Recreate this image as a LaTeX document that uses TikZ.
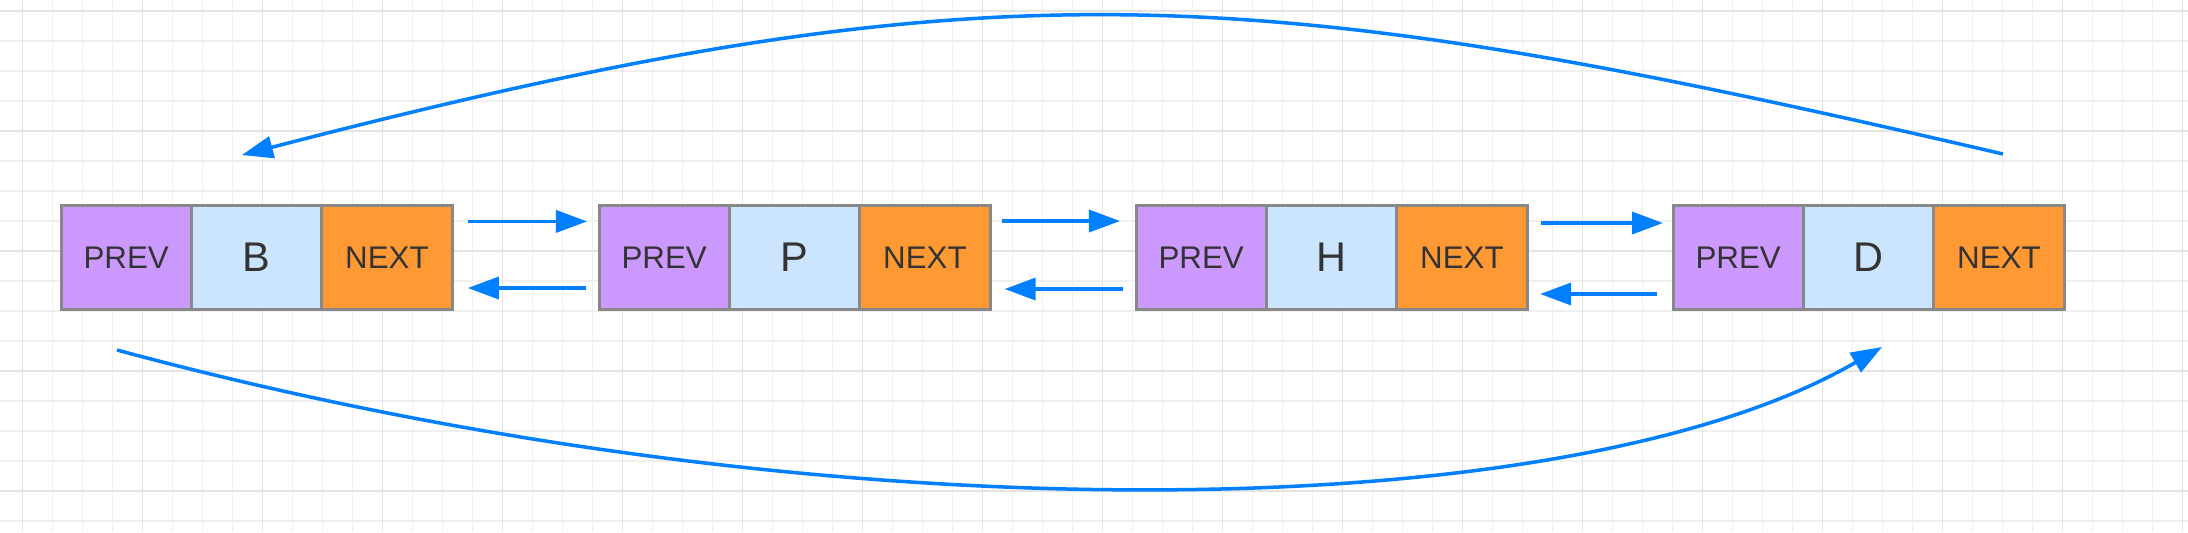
\documentclass[tikz,border=0pt]{standalone}
\usepackage{fontspec}
\setmainfont{Liberation Sans}
\usetikzlibrary{arrows.meta,calc}
\definecolor{gridminor}{HTML}{F0F0F0}
\definecolor{gridmajor}{HTML}{E4E4E4}
\definecolor{linkblue}{HTML}{007FFF}
\definecolor{prevfill}{HTML}{CC99FF}
\definecolor{datafill}{HTML}{CCE5FF}
\definecolor{nextfill}{HTML}{FF9933}
\definecolor{cellborder}{HTML}{888888}
\definecolor{celltext}{HTML}{333333}
\newcommand\cellsmallfont{\fontsize{8.9pt}{10pt}\selectfont}
\newcommand\cellbigfont{\fontsize{11.8pt}{13pt}\selectfont}
\begin{document}
\begin{tikzpicture}[x=0.01cm,y=-0.01cm,
  cell/.style={draw=cellborder, line width=0.03cm, minimum width=1.303cm,
    minimum height=1.033cm, inner sep=0pt, outer sep=0pt, text=celltext, anchor=west},
  prevcell/.style={cell, fill=prevfill, font=\cellsmallfont},
  datacell/.style={cell, fill=datafill, font=\cellbigfont},
  nextcell/.style={cell, fill=nextfill, font=\cellsmallfont},
  arr/.style={draw=linkblue, line width=0.035cm, -{Triangle[length=0.31cm,width=0.22cm]}},
  gridminorline/.style={draw=gridminor, line width=0.015cm},
  gridmajorline/.style={draw=gridmajor, line width=0.015cm}]
\path[use as bounding box, fill=white] (0,0) rectangle (2188,532);
% grid
\foreach \k in {0,...,72} \draw[gridminorline] (22.7+30*\k,0) -- (22.7+30*\k,532);
\foreach \k in {0,...,17} \draw[gridminorline] (0,11+30*\k) -- (2188,11+30*\k);
\foreach \k in {0,...,18} \draw[gridmajorline] (22.7+120*\k,0) -- (22.7+120*\k,532);
\foreach \k in {0,...,4} \draw[gridmajorline] (0,11+120*\k) -- (2188,11+120*\k);
% nodes
\node[prevcell] (p1) at (61,257.4) {PREV};
\node[datacell] (d1) at (p1.east) {B};
\node[nextcell] (n1) at (d1.east) {NEXT};
\node[prevcell] (p2) at (599,257.4) {PREV};
\node[datacell] (d2) at (p2.east) {P};
\node[nextcell] (n2) at (d2.east) {NEXT};
\node[prevcell] (p3) at (1136,257.4) {PREV};
\node[datacell] (d3) at (p3.east) {H};
\node[nextcell] (n3) at (d3.east) {NEXT};
\node[prevcell] (p4) at (1673,257.4) {PREV};
\node[datacell] (d4) at (p4.east) {D};
\node[nextcell] (n4) at (d4.east) {NEXT};
% straight links
\draw[arr] ($(n1.east)+(15.7,-36)$) -- ($(p2.west)+(-12,-36)$);
\draw[arr] ($(p2.west)+(-13,30.6)$) -- ($(n1.east)+(15.7,30.6)$);
\draw[arr] ($(n2.east)+(11.5,-36.4)$) -- ($(p3.west)+(-16,-36.4)$);
\draw[arr] ($(p3.west)+(-13,31.6)$) -- ($(n2.east)+(14.5,31.6)$);
\draw[arr] ($(n3.east)+(14,-34.4)$) -- ($(p4.west)+(-10,-34.4)$);
\draw[arr] ($(p4.west)+(-16,36.6)$) -- ($(n3.east)+(13,36.6)$);
% curved links
\coordinate (topS) at (2003,154);
\coordinate (topE) at (242,155);
\draw[arr] (topS) .. controls (1252,-21) and (993,-40) .. (topE);
\coordinate (botS) at (117,350);
\coordinate (botE) at (1882,347);
\draw[arr] (botS) .. controls (817,539) and (1567,530) .. (botE);
\end{tikzpicture}
\end{document}
